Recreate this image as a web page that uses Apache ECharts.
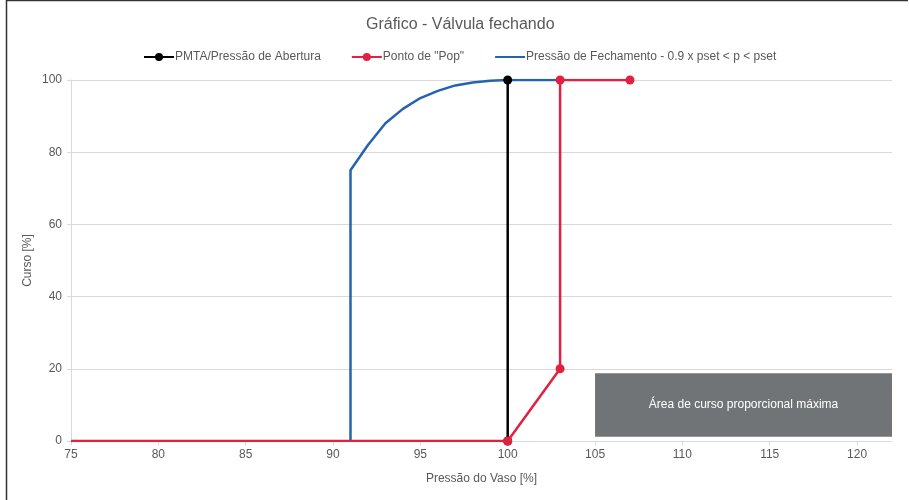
<!DOCTYPE html>
<html>
<head>
<meta charset="utf-8">
<script src="https://cdn.jsdelivr.net/npm/echarts@6/dist/echarts.min.js"></script>
<style>
  html, body { margin: 0; padding: 0; background: #fff; }
  #main { width: 909px; height: 500px; }
</style>
</head>
<body>
<div id="main"></div>
<script>
// dados do gráfico
var seriesNames = ['PMTA/Pressão de Abertura', 'Ponto de "Pop"', 'Pressão de Fechamento - 0.9 x pset < p < pset'];

var pmtaX = [100, 100];
var pmtaY = [0, 100];

var popX = [75, 100, 103, 103, 107];
var popY = [0, 0, 20, 100, 100];
var popMarks = [false, true, true, true, true];

var closeX = [91, 91, 92, 93, 94, 95, 96, 97, 98, 99, 100, 103];
var closeY = [0, 75, 82, 88, 92, 95, 97, 98.5, 99.3, 99.8, 100, 100];

var xTicks = [75, 80, 85, 90, 95, 100, 105, 110, 115, 120];
var boxRange = [[105, 1.2], [122, 18.8]];
var boxText = 'Área de curso proporcional máxima';

function pairs(xs, ys) {
  var out = [];
  for (var i = 0; i < xs.length; i++) out.push([xs[i], ys[i]]);
  return out;
}

var popData = [];
for (var i = 0; i < popX.length; i++) {
  var item = { value: [popX[i], popY[i]] };
  if (!popMarks[i]) item.symbol = 'none';
  popData.push(item);
}

var txt = '#595959';
var font = 'Liberation Sans, Arial, sans-serif';

var chart = echarts.init(document.getElementById('main'));
chart.setOption({
  backgroundColor: '#fff',
  textStyle: { fontFamily: font },
  title: {
    text: 'Gráfico - Válvula fechando',
    left: 361,
    top: 12,
    textStyle: { fontSize: 16, fontWeight: 'normal', color: txt, fontFamily: font }
  },
  legend: {
    top: 46,
    left: 138,
    itemWidth: 30,
    itemHeight: 10,
    itemGap: 30,
    textStyle: { fontSize: 12, color: txt, fontFamily: font, padding: [0, 0, 0, -4] },
    data: [
      seriesNames[0],
      seriesNames[1],
      { name: seriesNames[2], itemStyle: { opacity: 0 } }
    ]
  },
  grid: { left: 71, right: 17, top: 80, bottom: 59 },
  xAxis: {
    type: 'value',
    min: 75,
    max: 122,
    interval: 5,
    name: 'Pressão do Vaso [%]',
    nameLocation: 'middle',
    nameGap: 32,
    nameTextStyle: { fontSize: 12, color: txt },
    axisLine: { show: true, lineStyle: { color: '#d9d9d9', width: 1 } },
    axisTick: { show: true, length: 4, lineStyle: { color: '#d9d9d9' }, customValues: xTicks },
    axisLabel: { fontSize: 12, color: txt, margin: 8, customValues: xTicks },
    splitLine: { show: false }
  },
  yAxis: {
    type: 'value',
    min: 0,
    max: 100,
    interval: 20,
    name: 'Curso [%]',
    nameLocation: 'middle',
    nameGap: 37,
    nameMoveOverlap: false,
    nameTextStyle: { fontSize: 12, color: txt },
    axisLine: { show: true, lineStyle: { color: '#d9d9d9', width: 1 } },
    axisTick: { show: true, length: 4, lineStyle: { color: '#d9d9d9' } },
    axisLabel: { fontSize: 12, color: txt, margin: 9 },
    splitLine: { show: true, lineStyle: { color: '#d9d9d9', width: 1 } }
  },
  graphic: [
    { type: 'line', shape: { x1: 6.5, y1: 0, x2: 6.5, y2: 500 }, style: { stroke: '#333', lineWidth: 1.5 } },
    { type: 'line', shape: { x1: 6, y1: 0.5, x2: 908, y2: 0.5 }, style: { stroke: '#333', lineWidth: 1.5 } }
  ],
  series: [
    {
      name: seriesNames[2],
      type: 'line',
      data: pairs(closeX, closeY),
      symbol: 'none',
      z: 3,
      lineStyle: { color: '#2463ae', width: 2.5 },
      itemStyle: { color: '#2463ae' },
      markArea: {
        silent: true,
        itemStyle: { color: '#717476', opacity: 1 },
        label: {
          show: true,
          position: 'inside',
          color: '#fff',
          fontSize: 12,
          fontFamily: font
        },
        data: [[
          { name: boxText, coord: boxRange[0] },
          { coord: boxRange[1] }
        ]]
      }
    },
    {
      name: seriesNames[0],
      type: 'line',
      data: pairs(pmtaX, pmtaY),
      symbol: 'circle',
      symbolSize: 9,
      z: 4,
      lineStyle: { color: '#000', width: 2.5 },
      itemStyle: { color: '#000' }
    },
    {
      name: seriesNames[1],
      type: 'line',
      data: popData,
      symbol: 'circle',
      symbolSize: 9,
      z: 5,
      lineStyle: { color: '#e2203f', width: 2.5 },
      itemStyle: { color: '#e2203f' }
    }
  ]
});
</script>
</body>
</html>
